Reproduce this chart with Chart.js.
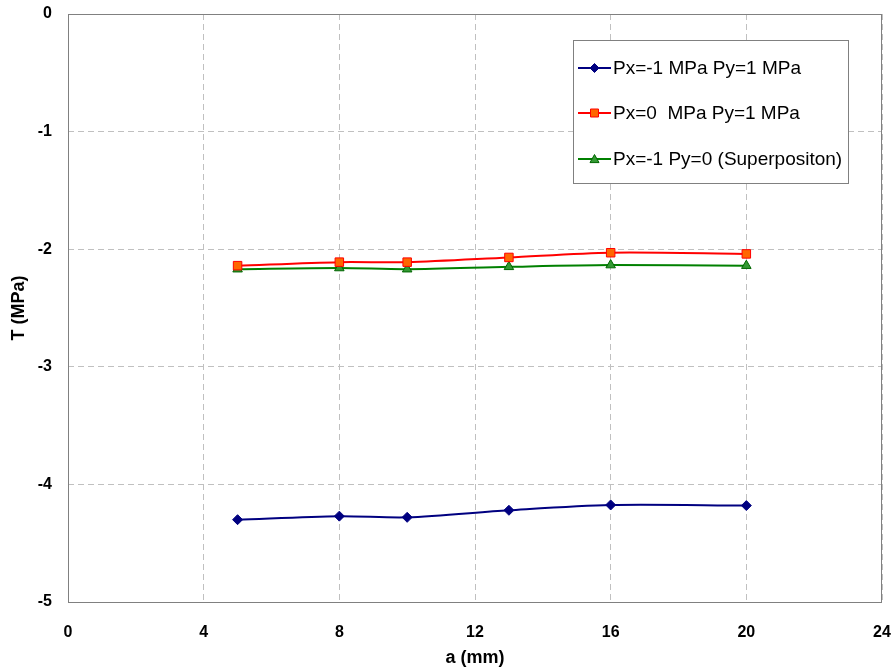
<!DOCTYPE html>
<html>
<head>
<meta charset="utf-8">
<script src="https://cdn.jsdelivr.net/npm/chart.js@4/dist/chart.umd.min.js"></script>
<style>
    html, body { margin: 0; padding: 0; background: #fff; }
    #wrap { width: 895px; height: 672px; position: relative; }
</style>
</head>
<body>
<div id="wrap"><canvas id="t_stress_plot"></canvas></div>
<script>
// crack length a (mm)
const crackLength = [5, 8, 10, 13, 16, 20];

// T-stress (MPa) per load case
const tBiaxial = [-4.30, -4.27, -4.28, -4.22, -4.175, -4.18];
const tPyOnly = [-2.14, -2.11, -2.11, -2.07, -2.03, -2.04];
const tSuperposition = [-2.17, -2.16, -2.17, -2.15, -2.135, -2.14];

const seriesLabels = [
    "Px=-1 MPa Py=1 MPa",
    "Px=0  MPa Py=1 MPa",
    "Px=-1 Py=0 (Superpositon)"
];

const xTicks = [0, 4, 8, 12, 16, 20, 24];
const yTicks = [0, -1, -2, -3, -4, -5];

const font_family = "'Liberation Sans', Arial, sans-serif";

function toPoints(xs, ys) {
    return xs.map((x, i) => ({ x: x, y: ys[i] }));
}

function drawMarker(ctx, style, x, y, r) {
    if (style === "rectRot") {
        ctx.moveTo(x, y - r); ctx.lineTo(x + r, y); ctx.lineTo(x, y + r); ctx.lineTo(x - r, y); ctx.closePath();
    } else if (style === "rect") {
        ctx.rect(x - r, y - r, 2 * r, 2 * r);
    } else {
        ctx.moveTo(x, y - r); ctx.lineTo(x + r, y + r * 0.8); ctx.lineTo(x - r, y + r * 0.8); ctx.closePath();
    }
}

// frame around the plot area + legend box inside it
const framePlugin = {
    id: "frame",
    afterDraw(chart) {
        const ctx = chart.ctx;
        const a = chart.chartArea;
        ctx.save();
        ctx.strokeStyle = "#808080";
        ctx.lineWidth = 1;
        ctx.strokeRect(a.left + 0.5, a.top + 0.5, a.right - a.left - 1, a.bottom - a.top);

        // legend
        const bx = 573, by = 40, bw = 275, bh = 143;
        ctx.fillStyle = "#fff";
        ctx.fillRect(bx, by, bw, bh);
        ctx.strokeRect(bx + 0.5, by + 0.5, bw, bh);
        const rows = [68, 113, 159];
        const legendSize = [4.5, 4, 4.5];
        chart.data.datasets.forEach((ds, i) => {
            const y = rows[i];
            ctx.strokeStyle = ds.borderColor;
            ctx.lineWidth = 2;
            ctx.beginPath();
            ctx.moveTo(578, y);
            ctx.lineTo(611, y);
            ctx.stroke();
            ctx.fillStyle = ds.pointBackgroundColor;
            ctx.strokeStyle = ds.pointBorderColor;
            ctx.lineWidth = 1;
            ctx.beginPath();
            drawMarker(ctx, ds.pointStyle, 594.5, y, legendSize[i]);
            ctx.fill();
            ctx.stroke();
            ctx.fillStyle = "#000";
            ctx.font = "19px " + font_family;
            ctx.textBaseline = "middle";
            ctx.textAlign = "left";
            ctx.fillText(ds.label, 613, y + 1);
        });
        ctx.restore();
    }
};

const DATA = {
    datasets: [{
        label: seriesLabels[0],
        data: toPoints(crackLength, tBiaxial),
        borderColor: "#000080",
        pointBackgroundColor: "#000080",
        pointBorderColor: "#000080",
        pointStyle: "rectRot",
        pointRadius: 5,
    }, {
        label: seriesLabels[1],
        data: toPoints(crackLength, tPyOnly),
        borderColor: "#ff0000",
        pointBackgroundColor: "#ff6600",
        pointBorderColor: "#ff0000",
        pointStyle: "rect",
        pointRadius: 6,
    }, {
        label: seriesLabels[2],
        data: toPoints(crackLength, tSuperposition),
        borderColor: "#008000",
        pointBackgroundColor: "#339933",
        pointBorderColor: "#006600",
        pointStyle: "triangle",
        pointRadius: 5.5,
    }]
};
DATA.datasets.forEach(ds => {
    ds.showLine = true;
    ds.borderWidth = 2;
    ds.tension = 0.3;
    ds.pointBorderWidth = 1;
});

const config = {
    type: "scatter",
    data: DATA,
    plugins: [framePlugin],
    options: {
        responsive: true,
        maintainAspectRatio: false,
        animation: false,
        layout: { padding: { left: 0, right: 13, top: 14, bottom: 0 } },
        plugins: {
            legend: { display: false },
            tooltip: { enabled: false },
        },
        scales: {
            x: {
                type: "linear",
                min: 0,
                max: 24,
                afterBuildTicks: s => { s.ticks = xTicks.map(v => ({ value: v })); },
                afterFit: s => {
                    s.height = 70;
                    s.paddingLeft = 0;
                    s.paddingRight = 0;
                },
                ticks: {
                    color: "#000",
                    padding: 21,
                    font: { family: font_family, size: 16, weight: "bold" },
                },
                grid: {
                    color: "#c0c0c0",
                    drawTicks: false,
                },
                border: { display: false, dash: [6, 4] },
                title: {
                    display: true,
                    text: "a (mm)",
                    color: "#000",
                    padding: { top: 0, bottom: 3 },
                    font: { family: font_family, size: 18, weight: "bold" },
                },
            },
            y: {
                type: "linear",
                min: -5,
                max: 0,
                afterBuildTicks: s => { s.ticks = yTicks.map(v => ({ value: v })); },
                afterFit: s => {
                    s.width = 68;
                    s.paddingTop = 0;
                    s.paddingBottom = 0;
                },
                ticks: {
                    color: "#000",
                    padding: 16,
                    font: { family: font_family, size: 16, weight: "bold" },
                },
                grid: {
                    color: "#c0c0c0",
                    drawTicks: false,
                },
                border: { display: false, dash: [6, 4] },
                title: {
                    display: true,
                    text: "T (MPa)",
                    color: "#000",
                    padding: { top: 8, bottom: 0 },
                    font: { family: font_family, size: 18, weight: "bold" },
                },
            },
        },
    },
};

const ctx = document.getElementById("t_stress_plot");
window.t_stress_chart = new Chart(ctx, config);
</script>
</body>
</html>
